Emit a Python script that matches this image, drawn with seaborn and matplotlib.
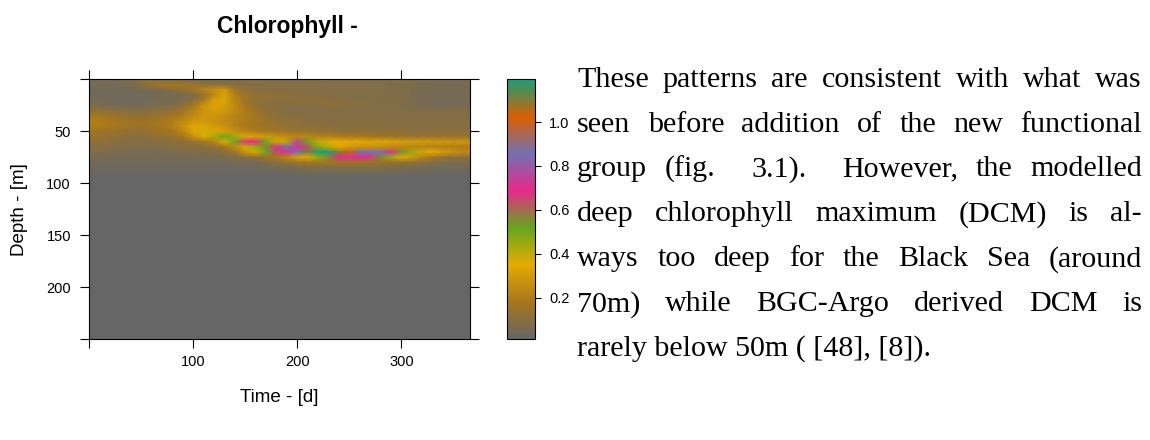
import re
import numpy as np
import matplotlib
matplotlib.use("Agg")
import matplotlib.pyplot as plt
from matplotlib.colors import LinearSegmentedColormap
import seaborn as sns

# ---------------------------------------------------------------------------
# Profiles sampled every 10 days (day 0 .. 370) at 5 m depth levels
# ---------------------------------------------------------------------------
day_step = 10
depth_step = 5
last_day = 366
max_depth = 250

#   days:      0    10   20   30   40   50   60   70   80   90  100  110  120
#            130  140  150  160  170  180  190  200  210  220  230  240  250  260  270  280  290  300
#            310  320  330  340  350  360  370
chl_00m = [.06, .06, .06, .07, .08, .09, .09, .08, .08, .08, .08, .08, .08,
           .08, .08, .08, .08, .08, .08, .08, .08, .08, .08, .08, .08, .08, .08, .08, .08, .08, .08,
           .07, .07, .07, .06, .06, .06, .06]
chl_05m = [.05, .05, .05, .05, .07, .10, .15, .17, .18, .17, .14, .11, .10,
           .10, .10, .09, .09, .09, .09, .09, .09, .09, .09, .09, .09, .09, .09, .09, .09, .08, .08,
           .08, .07, .06, .06, .06, .06, .06]
chl_10m = [.04, .04, .04, .04, .04, .05, .06, .08, .10, .13, .18, .22, .26,
           .30, .17, .12, .10, .09, .09, .09, .09, .09, .09, .08, .08, .08, .08, .08, .08, .08, .08,
           .07, .06, .06, .05, .05, .06, .06]
chl_15m = [.04, .04, .04, .04, .04, .04, .04, .05, .05, .06, .08, .13, .24,
           .33, .21, .15, .13, .13, .12, .11, .10, .09, .09, .08, .08, .08, .08, .08, .08, .08, .08,
           .07, .06, .05, .05, .05, .05, .06]
chl_20m = [.05, .05, .04, .04, .04, .04, .05, .05, .06, .07, .10, .19, .31,
           .33, .23, .16, .12, .11, .11, .11, .12, .12, .12, .11, .10, .09, .08, .08, .08, .08, .08,
           .07, .06, .05, .05, .05, .05, .06]
chl_25m = [.08, .07, .06, .05, .05, .05, .06, .07, .08, .11, .17, .27, .33,
           .31, .25, .18, .13, .11, .10, .09, .09, .09, .10, .11, .11, .11, .10, .09, .08, .08, .08,
           .07, .06, .06, .06, .06, .06, .07]
chl_30m = [.13, .12, .11, .10, .09, .09, .10, .11, .13, .16, .22, .28, .31,
           .29, .25, .20, .15, .12, .10, .09, .09, .08, .08, .08, .08, .08, .08, .08, .08, .08, .08,
           .08, .08, .08, .08, .08, .08, .08]
chl_35m = [.18, .17, .16, .14, .13, .13, .14, .15, .17, .20, .25, .28, .28,
           .26, .23, .20, .17, .14, .12, .11, .10, .10, .09, .09, .09, .09, .09, .09, .09, .09, .09,
           .09, .09, .09, .09, .09, .09, .09]
chl_40m = [.21, .20, .19, .17, .16, .15, .16, .18, .20, .24, .28, .29, .27,
           .25, .22, .20, .18, .15, .13, .12, .11, .10, .10, .10, .09, .09, .09, .09, .09, .09, .09,
           .09, .09, .09, .09, .09, .09, .09]
chl_45m = [.21, .20, .19, .17, .16, .16, .17, .19, .21, .27, .33, .33, .30,
           .26, .22, .19, .17, .15, .14, .13, .12, .11, .11, .10, .10, .10, .10, .10, .10, .10, .10,
           .10, .10, .10, .10, .10, .10, .10]
chl_50m = [.17, .16, .15, .14, .13, .13, .14, .16, .18, .23, .33, .38, .37,
           .32, .27, .23, .20, .18, .17, .16, .15, .14, .13, .13, .12, .12, .12, .12, .12, .12, .12,
           .11, .11, .11, .11, .11, .11, .11]
chl_55m = [.14, .14, .13, .12, .11, .11, .12, .13, .15, .18, .26, .36, .42,
           .52, .44, .37, .32, .29, .27, .25, .24, .23, .22, .21, .20, .19, .18, .17, .16, .15, .15,
           .14, .14, .14, .14, .14, .14, .14]
chl_60m = [.12, .12, .11, .10, .09, .09, .09, .10, .11, .12, .14, .17, .22,
           .36, .51, .67, .69, .51, .38, .40, .76, .52, .40, .36, .35, .34, .34, .33, .33, .32, .31,
           .30, .30, .29, .29, .28, .28, .28]
chl_65m = [.10, .10, .09, .08, .08, .08, .08, .08, .09, .10, .10, .11, .13,
           .18, .25, .38, .45, .55, .70, .86, .72, .62, .48, .40, .34, .30, .28, .27, .26, .25, .24,
           .23, .22, .22, .21, .21, .20, .20]
chl_70m = [.08, .08, .07, .07, .06, .06, .06, .06, .07, .07, .08, .08, .09,
           .11, .15, .28, .37, .51, .64, .72, .86, 1.10, 1.19, 1.19, 1.10, 1.00, .87, .86, .85, .72, .55,
           .45, .38, .35, .30, .27, .25, .24]
chl_75m = [.06, .06, .06, .05, .05, .05, .05, .05, .05, .05, .05, .06, .06,
           .07, .08, .10, .12, .15, .19, .24, .32, .36, .45, .56, .69, .70, .70, .67, .55, .45, .36,
           .30, .22, .17, .14, .12, .11, .11]
chl_80m = [.04, .04, .04, .04, .04, .04, .04, .04, .04, .04, .04, .04, .04,
           .04, .05, .05, .06, .08, .10, .13, .15, .16, .17, .17, .17, .17, .17, .16, .15, .14, .13,
           .12, .10, .09, .08, .07, .07, .07]
chl_85m = [.03, .03, .03, .03, .03, .03, .03, .03, .03, .03, .03, .03, .03,
           .03, .03, .03, .03, .04, .05, .06, .07, .08, .08, .08, .08, .08, .08, .08, .08, .07, .07,
           .06, .05, .04, .04, .04, .04, .04]
chl_90m = [.02, .02, .02, .02, .02, .02, .02, .02, .02, .02, .02, .02, .02,
           .02, .02, .02, .02, .02, .02, .03, .03, .04, .04, .04, .04, .04, .04, .04, .04, .04, .03,
           .03, .03, .02, .02, .02, .02, .02]
# Uniform concentration from 95 m down to the bottom of the axis
deep_background = 0.01

profile_levels = [chl_00m, chl_05m, chl_10m, chl_15m, chl_20m, chl_25m,
                  chl_30m, chl_35m, chl_40m, chl_45m, chl_50m, chl_55m,
                  chl_60m, chl_65m, chl_70m, chl_75m, chl_80m, chl_85m,
                  chl_90m]

# Colour scale
palette = ["#666666", "#A6761D", "#E6AB02", "#66A61E",
           "#E7298A", "#7570B3", "#D95F02", "#1B9E77"]
chl_min, chl_max = 0.01, 1.195
colorbar_ticks = [0.2, 0.4, 0.6, 0.8, 1.0]
colorbar_labels = ["0.2", "0.4", "0.6", "0.8", "1.0"]

# Axes ticks
day_ticks = [0, 100, 200, 300]
day_labels = ["", "100", "200", "300"]
depth_ticks = [0, 50, 100, 150, 200, 250]
depth_labels = ["", "50", "100", "150", "200", ""]

title = "Chlorophyll -"
x_label = "Time - [d]"
y_label = "Depth - [m]"

paragraph = [
    "These patterns are consistent with what was",
    "seen before addition of the new functional",
    "group (fig.  3.1).  However, the modelled",
    "deep chlorophyll maximum (DCM) is al-",
    "ways too deep for the Black Sea (around",
    "70m) while BGC-Argo derived DCM is",
    "rarely below 50m ( [48], [8]).",
]

# ---------------------------------------------------------------------------
n_cols = len(chl_00m)
n_deep = int(max_depth / depth_step) + 1 - len(profile_levels)
chl = np.vstack([np.array(profile_levels),
                 np.full((n_deep, n_cols), deep_background)])

sns.set_theme(style="white")
plt.rcParams["font.family"] = ["Liberation Sans", "DejaVu Sans"]
plt.rcParams["text.color"] = "black"

W, H = 1150, 440
fig = plt.figure(figsize=(W / 100, H / 100), dpi=100)
fig.patch.set_facecolor("white")


def fx(px):
    return px / W


def fy(py):
    return 1 - py / H


panel_top, panel_bottom = 79.3, 339.3
ax = fig.add_axes([fx(89), fy(panel_bottom), (470 - 89) / W,
                   (panel_bottom - panel_top) / H])
cax = fig.add_axes([fx(507), fy(panel_bottom), (535 - 507) / W,
                    (panel_bottom - panel_top) / H])

cmap = LinearSegmentedColormap.from_list("chl", palette, N=256)
# Values sit on the grid nodes (day 10*j, depth 5*i); colours are shaded
# smoothly between neighbouring nodes.
sns.heatmap(chl, ax=ax, cbar_ax=cax, cmap=cmap, vmin=chl_min, vmax=chl_max,
            xticklabels=False, yticklabels=False, shading="gouraud")

ax.set_xlim(0, last_day / day_step)
ax.set_ylim(max_depth / depth_step, 0)
ax.set_xticks(np.array(day_ticks) / day_step, day_labels)
ax.set_yticks(np.array(depth_ticks) / depth_step, depth_labels, rotation=0)
ax.tick_params(axis="both", direction="out", length=6.5, width=0.8,
               color="black", labelsize=10.5, labelcolor="black",
               bottom=True, left=True, top=True, right=True,
               labeltop=False, labelright=False)
ax.tick_params(axis="x", pad=5.0)
ax.tick_params(axis="y", pad=6.5)
ax.set_xlabel("")
ax.set_ylabel("")
for spine in ax.spines.values():
    spine.set_visible(True)
    spine.set_color("black")
    spine.set_linewidth(0.8)

cbar = ax.collections[0].colorbar
cbar.set_ticks(colorbar_ticks, labels=colorbar_labels)
cbar.outline.set_visible(True)
cbar.outline.set_edgecolor("black")
cbar.outline.set_linewidth(0.8)
cax.tick_params(axis="y", direction="out", length=4.3, width=0.8,
                color="black", labelsize=10.5, labelcolor="black",
                right=True, left=False, pad=6.0)

fig.text(fx(287), fy(27), title, ha="center", va="center",
         fontsize=16.5, fontweight="bold", color="black")
fig.text(fx(279.5), fy(402.3), x_label, ha="center", va="baseline",
         fontsize=13.5, color="black")
fig.text(fx(20), fy((panel_top + panel_bottom) / 2), y_label,
         ha="center", va="center", rotation=90, fontsize=13.5, color="black")

# Justified paragraph to the right of the chart
text_left, text_right = 577, 1142
first_baseline, line_gap = 86.7, 44.9
serif = ["Liberation Serif", "DejaVu Serif"]
text_size = 21.6
renderer = fig.canvas.get_renderer()

for i, line in enumerate(paragraph):
    y = fy(first_baseline + i * line_gap)
    if i == len(paragraph) - 1:
        fig.text(fx(text_left), y, line, ha="left", va="baseline",
                 family=serif, fontsize=text_size, color="black")
        continue
    pieces = re.findall(r"(\S+)(\s*)", line)
    words = [fig.text(0, y, w, ha="left", va="baseline", family=serif,
                      fontsize=text_size, color="black") for w, _ in pieces]
    widths = [t.get_window_extent(renderer).width for t in words]
    weights = [len(s) for _, s in pieces[:-1]]
    unit = (text_right - text_left - sum(widths)) / sum(weights)
    x = text_left
    for t, w, gap in zip(words, widths, weights + [0]):
        t.set_x(fx(x))
        x += w + gap * unit

fig.savefig("out.png", dpi=100, facecolor="white")
